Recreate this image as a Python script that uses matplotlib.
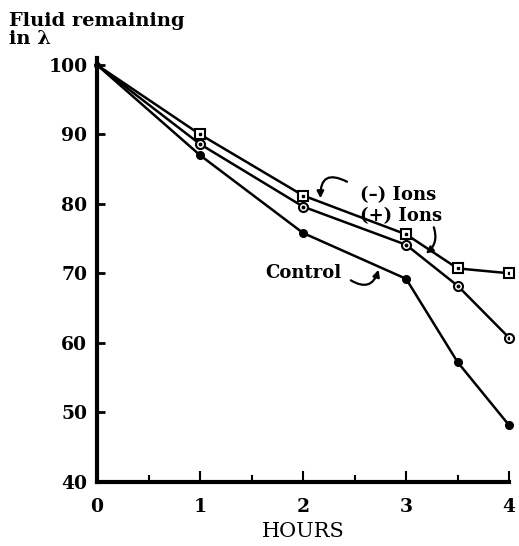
import matplotlib
matplotlib.use("Agg")
import matplotlib.pyplot as plt
from matplotlib.ticker import MultipleLocator

hours = [0, 1, 2, 3, 3.5, 4]
neg_ions = [100, 90, 81.2, 75.6, 70.7, 70.0]
pos_ions = [100, 88.6, 79.6, 74.1, 68.2, 60.7]
control = [100, 87.0, 75.8, 69.2, 57.2, 48.1]

x_ticks = [0, 1, 2, 3, 4]
y_ticks = [40, 50, 60, 70, 80, 90, 100]

plt.rcParams['font.family'] = ['DejaVu Serif']

fig = plt.figure(figsize=(5.19, 5.46), dpi=100)
ax = fig.add_axes([0.187, 0.118, 0.794, 0.763])

lw = 1.8
ax.plot(hours, control, color='black', lw=lw, clip_on=False, zorder=3)
ax.plot(hours, pos_ions, color='black', lw=lw, clip_on=False, zorder=3)
ax.plot(hours, neg_ions, color='black', lw=lw, clip_on=False, zorder=3)

ax.plot(hours[1:], control[1:], ls='none', marker='o', ms=5.5,
        mfc='black', mec='black', clip_on=False, zorder=4)
ax.plot(hours[1:], pos_ions[1:], ls='none', marker='o', ms=6.5,
        mfc='white', mec='black', mew=1.5, clip_on=False, zorder=4)
ax.plot(hours[1:], neg_ions[1:], ls='none', marker='s', ms=7,
        mfc='white', mec='black', mew=1.5, clip_on=False, zorder=4)
ax.plot(hours[1:], pos_ions[1:], ls='none', marker='o', ms=1.8, color='black', zorder=5)
ax.plot(hours[1:], neg_ions[1:], ls='none', marker='s', ms=1.8, color='black', zorder=5)
ax.plot(hours[:1], control[:1], ls='none', marker='o', ms=4, color='black',
        clip_on=False, zorder=5)

ax.set_xlim(0, 4)
ax.set_ylim(40, 100)
for s in ['top', 'right']:
    ax.spines[s].set_visible(False)
for s in ['left', 'bottom']:
    ax.spines[s].set_linewidth(3)
ax.spines['left'].set_bounds(40, 101)

ax.xaxis.set_major_locator(MultipleLocator(1))
ax.xaxis.set_minor_locator(MultipleLocator(0.5))
ax.set_xticks(x_ticks)
ax.set_yticks(y_ticks)
ax.tick_params(axis='x', which='major', direction='in', length=8, width=1.5,
               labelsize=13.5, pad=12)
ax.tick_params(axis='x', which='minor', direction='in', length=5, width=1.5)
ax.tick_params(axis='y', which='major', direction='in', length=6, width=2,
               labelsize=13.5, pad=7)
for lab in ax.get_xticklabels() + ax.get_yticklabels():
    lab.set_fontweight('bold')

ax.set_xlabel('HOURS', fontsize=15, labelpad=4)
fig.text(0.018, 0.978, 'Fluid remaining\nin λ', fontsize=14, fontweight='bold',
         va='top', ha='left', linespacing=1.0)

ax.text(2.55, 81.3, '(\u2013) Ions', fontsize=13, fontweight='bold', va='center')
ax.text(2.55, 78.2, '(+) Ions', fontsize=13, fontweight='bold', va='center')
ax.text(1.63, 70.0, 'Control', fontsize=13, fontweight='bold', va='center')

arrow_kw = dict(arrowstyle='-|>', color='black', lw=1.6, mutation_scale=10)
ax.annotate('', xy=(2.17, 80.4), xytext=(2.45, 83.0),
            arrowprops=dict(connectionstyle='arc3,rad=0.9', **arrow_kw))
ax.annotate('', xy=(3.17, 72.6), xytext=(3.26, 77.0),
            arrowprops=dict(connectionstyle='arc3,rad=-0.4', **arrow_kw))
ax.annotate('', xy=(2.74, 70.9), xytext=(2.44, 69.2),
            arrowprops=dict(connectionstyle='arc3,rad=0.7', **arrow_kw))

fig.savefig('out.png', dpi=100)
